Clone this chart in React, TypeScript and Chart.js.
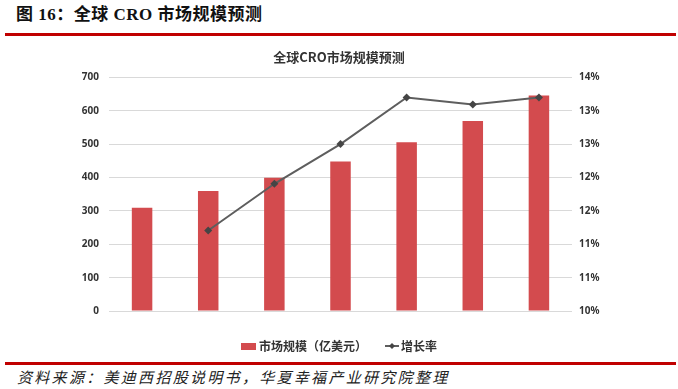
import React, { useEffect, useRef } from 'react';
import { Chart, registerables } from 'chart.js';

Chart.register(...registerables);

const categories = ['2015', '2016', '2017', '2018', '2019E', '2020E', '2021E'];
const marketSize = [310, 360, 400, 448, 506, 570, 646];
const growthRate = [null, 11.38, 12.18, 12.86, 13.66, 13.54, 13.66];
const leftMin = 0;
const leftMax = 700;
const leftStep = 100;
const rightMin = 10;
const rightMax = 14;
const rightTickCount = 8;
const barLabel = '市场规模（亿美元）';
const lineLabel = '增长率';
const chartTitle = '全球CRO市场规模预测';

const BAR_COLOR = '#D34B4E';
const LINE_COLOR = '#5E5E5E';
const MARKER_COLOR = '#454545';
const TEXT_COLOR = '#333333';

function makeBarIcon(): HTMLCanvasElement {
  const c = document.createElement('canvas');
  c.width = 18;
  c.height = 8;
  const ctx = c.getContext('2d')!;
  ctx.fillStyle = BAR_COLOR;
  ctx.fillRect(3, 1, 15, 7);
  return c;
}

function makeLineIcon(): HTMLCanvasElement {
  const c = document.createElement('canvas');
  c.width = 20;
  c.height = 10;
  const ctx = c.getContext('2d')!;
  ctx.strokeStyle = LINE_COLOR;
  ctx.lineWidth = 2;
  ctx.beginPath();
  ctx.moveTo(6, 5);
  ctx.lineTo(20, 5);
  ctx.stroke();
  ctx.fillStyle = MARKER_COLOR;
  ctx.beginPath();
  ctx.moveTo(13, 2);
  ctx.lineTo(16, 5);
  ctx.lineTo(13, 8);
  ctx.lineTo(10, 5);
  ctx.closePath();
  ctx.fill();
  return c;
}

export default function App() {
  const canvasRef = useRef<HTMLCanvasElement | null>(null);

  useEffect(() => {
    if (!canvasRef.current) return;
    const barIcon = makeBarIcon();
    const lineIcon = makeLineIcon();
    const tickFont = { family: '"Noto Sans", "Noto Sans CJK SC", sans-serif', size: 10, weight: 'bold' as const };

    const chart = new Chart(canvasRef.current, {
      type: 'bar',
      data: {
        labels: categories,
        datasets: [
          {
            type: 'line',
            label: lineLabel,
            data: growthRate,
            yAxisID: 'y1',
            borderColor: LINE_COLOR,
            borderWidth: 2,
            backgroundColor: MARKER_COLOR,
            pointStyle: 'rectRot',
            pointRadius: 4,
            pointBackgroundColor: MARKER_COLOR,
            pointBorderColor: MARKER_COLOR,
            pointBorderWidth: 0,
            spanGaps: false,
            order: 0,
          } as any,
          {
            type: 'bar',
            label: barLabel,
            data: marketSize,
            yAxisID: 'y',
            backgroundColor: BAR_COLOR,
            borderWidth: 0,
            barPercentage: 0.31,
            categoryPercentage: 1,
            order: 1,
          },
        ],
      },
      options: {
        responsive: false,
        animation: false,
        maintainAspectRatio: false,
        layout: { padding: { left: 0, right: 0, top: 0, bottom: 0 } },
        plugins: {
          tooltip: { enabled: false },
          title: {
            display: true,
            text: chartTitle,
            color: TEXT_COLOR,
            font: { family: '"Noto Sans CJK SC", sans-serif', size: 13, weight: 'bold' },
            padding: { top: 9, bottom: 13 },
          },
          legend: {
            position: 'bottom',
            labels: {
              usePointStyle: true,
              pointStyleWidth: 12,
              boxHeight: 12,
              padding: 16,
              color: TEXT_COLOR,
              font: { family: '"Noto Sans CJK SC", sans-serif', size: 12, weight: 'bold' },
              generateLabels: () => [
                {
                  text: barLabel,
                  pointStyle: barIcon as any,
                  fillStyle: BAR_COLOR,
                  strokeStyle: BAR_COLOR,
                  lineWidth: 0,
                  hidden: false,
                  datasetIndex: 1,
                  fontColor: TEXT_COLOR,
                },
                {
                  text: lineLabel,
                  pointStyle: lineIcon as any,
                  fillStyle: LINE_COLOR,
                  strokeStyle: LINE_COLOR,
                  lineWidth: 0,
                  hidden: false,
                  datasetIndex: 0,
                  fontColor: TEXT_COLOR,
                },
              ],
            },
          },
        },
        scales: {
          x: {
            grid: { display: false },
            border: { display: false },
            ticks: { color: TEXT_COLOR, font: tickFont, padding: 5 },
            afterFit: (scale: any) => {
              scale.height = 13;
            },
          },
          y: {
            position: 'left',
            min: leftMin,
            max: leftMax,
            ticks: { stepSize: leftStep, color: TEXT_COLOR, font: tickFont, padding: 10 },
            grid: { color: '#D9D9D9', lineWidth: 1, drawTicks: false },
            border: { display: false },
            afterFit: (scale: any) => {
              scale.width = 109;
            },
          },
          y1: {
            position: 'right',
            min: rightMin,
            max: rightMax,
            ticks: {
              count: rightTickCount,
              color: TEXT_COLOR,
              font: tickFont,
              padding: 7,
              callback: (v: any) => Math.round(Number(v)) + '%',
            },
            grid: { display: false, drawTicks: false },
            border: { display: false },
            afterFit: (scale: any) => {
              scale.width = 106;
            },
          },
        },
      } as any,
    });
    return () => chart.destroy();
  }, []);

  return (
    <div style={{ position: 'absolute', left: 0, top: 0, width: 678, height: 389, background: '#fff', overflow: 'hidden' }}>
      <div
        style={{
          position: 'absolute',
          left: 16,
          top: 5,
          fontFamily: '"Liberation Serif", "Noto Sans CJK SC", serif',
          fontWeight: 'bold',
          fontSize: 17,
          lineHeight: '20px',
          color: '#111',
          whiteSpace: 'nowrap',
          letterSpacing: 0.5,
        }}
      >
        图 16：全球 CRO 市场规模预测
      </div>
      <div style={{ position: 'absolute', left: 5, top: 33, width: 671, height: 3, background: '#C00000' }} />
      <canvas ref={canvasRef} width={678} height={322} style={{ position: 'absolute', left: 0, top: 40, width: 678, height: 322 }} />
      <div style={{ position: 'absolute', left: 5, top: 362, width: 671, height: 3, background: '#C00000' }} />
      <div
        style={{
          position: 'absolute',
          left: 17,
          top: 368,
          fontFamily: '"Noto Sans CJK SC", sans-serif',
          fontStyle: 'italic',
          fontSize: 15,
          lineHeight: '18px',
          letterSpacing: 2.3,
          color: '#222',
          whiteSpace: 'nowrap',
        }}
      >
        资料来源：美迪西招股说明书，华夏幸福产业研究院整理
      </div>
    </div>
  );
}
